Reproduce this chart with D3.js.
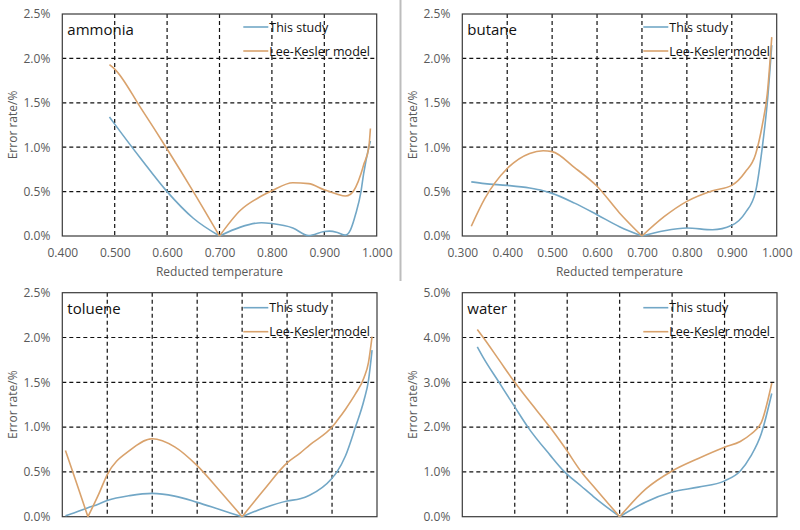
<!DOCTYPE html>
<html>
<head>
<meta charset="utf-8">
<script src="https://cdn.jsdelivr.net/npm/d3@7"></script>
<style>
  html, body { margin: 0; padding: 0; background: #fff; }
  svg { display: block; font-family: "Open Sans", "Noto Sans", sans-serif; }
</style>
</head>
<body>
<svg id="chart" width="800" height="530"></svg>
<script>
// ---------- data ----------
const seriesNames = ["This study", "Lee-Kesler model"];

const ammoniaX     = [0.49, 0.50, 0.55, 0.60, 0.65, 0.70, 0.74, 0.78, 0.80, 0.84, 0.87, 0.90, 0.91, 0.925, 0.94, 0.95, 0.96, 0.97, 0.975, 0.985, 0.988];
const ammoniaStudy = [1.34, 1.26, 0.87, 0.50, 0.20, 0.00, 0.10, 0.15, 0.14, 0.09, 0.005, 0.05, 0.055, 0.04, 0.01, 0.07, 0.25, 0.50, 0.70, 1.00, 1.07];
const ammoniaLK    = [1.93, 1.88, 1.44, 0.98, 0.50, 0.00, 0.29, 0.45, 0.51, 0.60, 0.59, 0.52, 0.50, 0.47, 0.45, 0.47, 0.55, 0.70, 0.80, 1.00, 1.21];

const butaneX      = [0.32, 0.35, 0.40, 0.45, 0.48, 0.50, 0.55, 0.60, 0.65, 0.70, 0.75, 0.80, 0.857, 0.90, 0.93, 0.953, 0.968, 0.979, 0.989];
const butaneStudy  = [0.61, 0.59, 0.57, 0.54, 0.51, 0.48, 0.37, 0.24, 0.105, 0.00, 0.06, 0.09, 0.07, 0.12, 0.26, 0.50, 1.00, 1.50, 2.15];
const butaneLK     = [0.11, 0.42, 0.76, 0.93, 0.96, 0.95, 0.77, 0.56, 0.26, 0.00, 0.22, 0.39, 0.51, 0.57, 0.72, 0.92, 1.25, 1.60, 2.24];

const tolueneX     = [0.307, 0.33, 0.357, 0.38, 0.40, 0.45, 0.50, 0.55, 0.60, 0.65, 0.70, 0.75, 0.80, 0.829, 0.85, 0.90, 0.911, 0.93, 0.952, 0.971, 0.981, 0.989];
const tolueneStudy = [0.01, 0.05, 0.10, 0.14, 0.18, 0.235, 0.26, 0.23, 0.16, 0.08, 0.00, 0.10, 0.175, 0.20, 0.24, 0.43, 0.50, 0.68, 1.00, 1.30, 1.52, 1.86];
const tolueneLK    = [0.74, 0.40, 0.00, 0.24, 0.47, 0.74, 0.87, 0.78, 0.57, 0.29, 0.00, 0.31, 0.60, 0.71, 0.80, 1.00, 1.07, 1.20, 1.37, 1.55, 1.72, 2.01];

const waterX       = [0.4286, 0.44, 0.47, 0.50, 0.525, 0.567, 0.595, 0.627, 0.65, 0.70, 0.75, 0.80, 0.85, 0.90, 0.93, 0.95, 0.97, 0.99];
const waterStudy   = [3.79, 3.55, 3.00, 2.45, 2.00, 1.38, 1.00, 0.68, 0.45, 0.00, 0.33, 0.55, 0.66, 0.80, 1.02, 1.35, 1.85, 2.75];
const waterLK      = [4.18, 4.00, 3.50, 3.00, 2.62, 2.00, 1.55, 1.00, 0.68, 0.00, 0.62, 1.02, 1.30, 1.55, 1.68, 1.84, 2.10, 2.98];

const xTickStarts  = { ammonia: 0.4, butane: 0.3, toluene: 0.3, water: 0.4 };
const yTickMax     = { ammonia: 2.5, butane: 2.5, toluene: 2.5, water: 5.0 };
const yTickStep    = { ammonia: 0.5, butane: 0.5, toluene: 0.5, water: 1.0 };

// ---------- layout / style ----------
const colors = ["#72a7c6", "#d9a26c"];
const svg = d3.select("#chart");

const panels = [
  { name: "ammonia", xs: ammoniaX, s: [ammoniaStudy, ammoniaLK], left: 62.3, right: 376.7, top: 14, bottom: 236, col: 0, xLabels: true },
  { name: "butane",  xs: butaneX,  s: [butaneStudy, butaneLK],   left: 462.3, right: 776.7, top: 14, bottom: 236, col: 1, xLabels: true },
  { name: "toluene", xs: tolueneX, s: [tolueneStudy, tolueneLK], left: 62.3, right: 377, top: 292.7, bottom: 516.7, col: 0, xLabels: false },
  { name: "water",   xs: waterX,   s: [waterStudy, waterLK],     left: 462.3, right: 777, top: 292.7, bottom: 516.7, col: 1, xLabels: false }
];

// separator line
svg.append("line")
  .attr("x1", 400.5).attr("x2", 400.5).attr("y1", 0).attr("y2", 281)
  .attr("stroke", "#bdbdbd").attr("stroke-width", 2);

panels.forEach(p => {
  const x0 = xTickStarts[p.name];
  const x = d3.scaleLinear().domain([x0, 1.0]).range([p.left, p.right]);
  const y = d3.scaleLinear().domain([0, yTickMax[p.name]]).range([p.bottom, p.top]);
  const xTicks = d3.range(Math.round((1.0 - x0) / 0.1) + 1).map(i => +(x0 + i * 0.1).toFixed(3));
  const yTicks = d3.range(Math.round(yTickMax[p.name] / yTickStep[p.name]) + 1).map(i => +(i * yTickStep[p.name]).toFixed(3));

  const g = svg.append("g");

  // gridlines (dashed)
  g.selectAll(".hg").data(yTicks.slice(1, -1)).enter().append("line")
    .attr("x1", p.left).attr("x2", p.right)
    .attr("y1", d => y(d)).attr("y2", d => y(d))
    .attr("stroke", "#111").attr("stroke-width", 1.2).attr("stroke-dasharray", "4,3");
  g.selectAll(".vg").data(xTicks.slice(1, -1)).enter().append("line")
    .attr("x1", d => x(d)).attr("x2", d => x(d))
    .attr("y1", p.top).attr("y2", p.bottom)
    .attr("stroke", "#111").attr("stroke-width", 1.2).attr("stroke-dasharray", "4,3");

  // frame
  g.append("rect")
    .attr("x", p.left).attr("y", p.top)
    .attr("width", p.right - p.left).attr("height", p.bottom - p.top)
    .attr("fill", "none").attr("stroke", "#3a3a3a").attr("stroke-width", 1.2);

  // y axis labels via d3 axis
  const yAxis = d3.axisLeft(y).tickValues(yTicks).tickSize(0).tickPadding(12)
    .tickFormat(d => d3.format(".1f")(d) + "%");
  const ya = g.append("g").attr("transform", `translate(${p.left},0)`).call(yAxis);
  ya.select(".domain").remove();
  ya.selectAll("text").attr("fill", "#595959").style("font-size", "12px")
    .style("font-family", "'Open Sans', sans-serif");

  // x axis labels
  if (p.xLabels) {
    const xAxis = d3.axisBottom(x).tickValues(xTicks).tickSize(0).tickPadding(12)
      .tickFormat(d3.format(".3f"));
    const xa = g.append("g").attr("transform", `translate(0,${p.bottom})`).call(xAxis);
    xa.select(".domain").remove();
    xa.selectAll("text").attr("fill", "#595959").style("font-size", "12px")
      .style("font-family", "'Open Sans', sans-serif");
    g.append("text")
      .attr("x", (p.left + p.right) / 2).attr("y", p.bottom + 40)
      .attr("text-anchor", "middle").attr("fill", "#595959").style("font-size", "12px")
      .text("Reducted temperature");
  }

  // y title
  g.append("text")
    .attr("transform", `translate(${p.col === 0 ? 17 : 417},${(p.top + p.bottom) / 2}) rotate(-90)`)
    .attr("text-anchor", "middle").attr("fill", "#595959").style("font-size", "12px")
    .text("Error rate/%");

  // series lines — split at exact-zero points for sharp V's
  const line = d3.line().x(d => x(d[0])).y(d => y(d[1])).curve(d3.curveMonotoneX);
  p.s.forEach((vals, si) => {
    const pts = p.xs.map((xv, i) => [xv, vals[i]]);
    const segs = [];
    let cur = [];
    pts.forEach((pt, i) => {
      cur.push(pt);
      if (pt[1] === 0 && i > 0 && i < pts.length - 1) { segs.push(cur); cur = [pt]; }
    });
    segs.push(cur);
    segs.forEach(seg => {
      g.append("path").datum(seg)
        .attr("d", line)
        .attr("fill", "none").attr("stroke", colors[si]).attr("stroke-width", 1.6);
    });
  });

  // panel title
  g.append("text")
    .attr("x", p.left + 5).attr("y", p.top + 21)
    .attr("fill", "#111").style("font-size", "15px")
    .text(p.name);

  // legend
  const lx = p.left + 181;
  seriesNames.forEach((nm, i) => {
    const ly = p.top + 13 + i * 24 + (p.top > 100 ? 2 : 0);
    g.append("line").attr("x1", lx).attr("x2", lx + 25).attr("y1", ly).attr("y2", ly)
      .attr("stroke", colors[i]).attr("stroke-width", 1.6);
    g.append("text").attr("x", lx + 26).attr("y", ly + 4.5)
      .attr("fill", "#111").style("font-size", "12.5px").text(nm);
  });
});
</script>
</body>
</html>
